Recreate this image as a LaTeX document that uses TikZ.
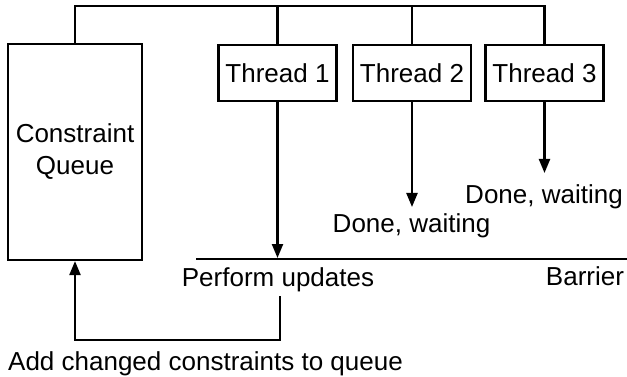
\documentclass[tikz,border=0pt]{standalone}
\usepackage{fontspec}
\setmainfont{Liberation Sans}
\usetikzlibrary{arrows.meta}
\begin{document}
\begin{tikzpicture}[x=1pt,y=-1pt,
  every node/.style={font=\fontsize{26}{32}\selectfont, inner sep=0pt},
  wire/.style={line width=2.2pt},
  arr/.style={wire, -{Triangle[length=14pt,width=11pt]}},
  box/.style={draw, line width=2.2pt, minimum width=118pt, minimum height=56.5pt},
  lbl/.style={anchor=base}]
\useasboundingbox (0,0) rectangle (627,377);
\node[box, minimum width=133.5pt, minimum height=216pt, align=center] (queue) at (75,152) {Constraint\\Queue};
\node[box] (t1) at (277.5,73) {Thread 1};
\node[box] (t2) at (412,73) {Thread 2};
\node[box] (t3) at (544.5,73) {Thread 3};
\coordinate (top) at (0,6);
\coordinate (bl) at (196,259.3);
\coordinate (br) at (627,259.3);
\coordinate (e1) at (277.5,258);
\coordinate (e2) at (412,207);
\coordinate (e3) at (544.5,173);
\coordinate (bstart) at (280,296);
\coordinate (bottom) at (0,340);
\node[lbl] (d2) at (411.5,233) {Done, waiting};
\node[lbl] (d3) at (544,204) {Done, waiting};
\node[lbl] (pu) at (278,286) {Perform updates};
\node[lbl] (bar) at (585,285) {Barrier};
\node[anchor=base west] (add) at (8,370) {Add changed constraints to queue};
\draw[wire] (queue.north) -- (queue.north |- top) -| (t3.north);
\draw[wire] (t1.north) -- (t1.north |- top);
\draw[wire] (t2.north) -- (t2.north |- top);
\draw[wire] (bl) -- (br);
\draw[arr] (t1.south) -- (e1);
\draw[arr] (t2.south) -- (e2);
\draw[arr] (t3.south) -- (e3);
\draw[arr] (bstart) -- (bstart |- bottom) -| (queue.south);
\end{tikzpicture}
\end{document}
